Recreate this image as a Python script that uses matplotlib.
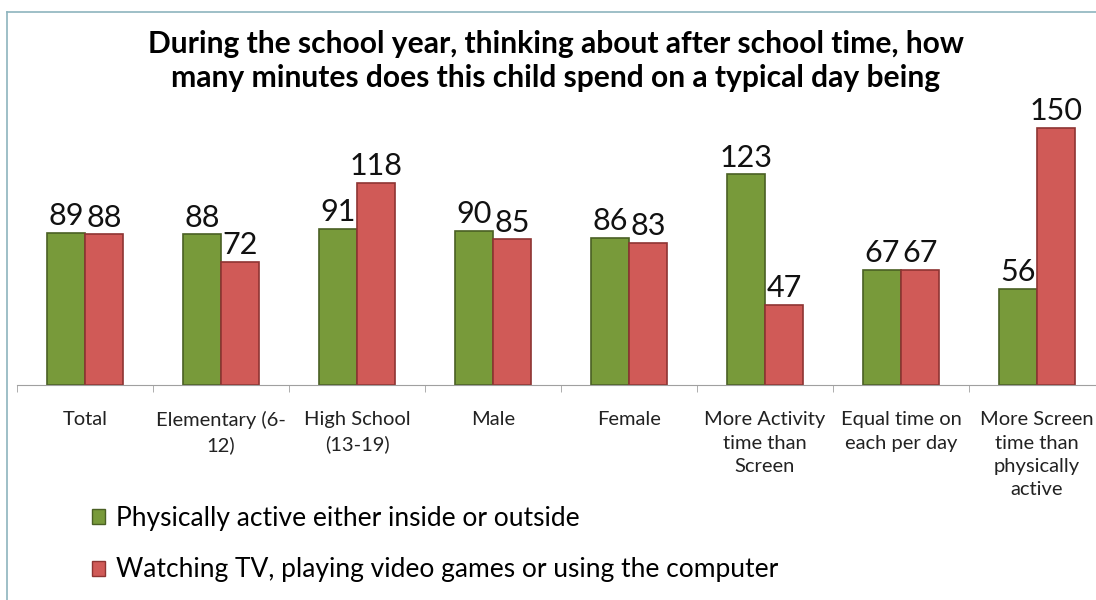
import numpy as np
import matplotlib

matplotlib.use("Agg")
import matplotlib.pyplot as plt
from matplotlib.patches import Patch
from matplotlib.lines import Line2D

# data
categories = [
    "Total",
    "Elementary (6-\n12)",
    "High School\n(13-19)",
    "Male",
    "Female",
    "More Activity\ntime than\nScreen",
    "Equal time on\neach per day",
    "More Screen\ntime than\nphysically\nactive",
]
active = [89, 88, 91, 90, 86, 123, 67, 56]
screen = [88, 72, 118, 85, 83, 47, 67, 150]
series_names = [
    "Physically active either inside or outside",
    "Watching TV, playing video games or using the computer",
]

green = "#789A3A"
green_edge = "#4A6024"
red = "#D05A57"
red_edge = "#8E3432"

plt.rcParams["font.family"] = ["Lato", "DejaVu Sans"]

fig = plt.figure(figsize=(10.96, 6.0), dpi=100)
W, H = 1096, 600
# axes placed in pixel terms: baseline at y=385, categories 136 px wide
ax = fig.add_axes([17 / W, (600 - 385) / H, 1088 / W, 274 / H])

x = np.arange(len(categories))
bw = 0.28
b1 = ax.bar(x - bw / 2, active, bw, color=green, edgecolor=green_edge, linewidth=1.2)
b2 = ax.bar(x + bw / 2, screen, bw, color=red, edgecolor=red_edge, linewidth=1.2)

for bars in (b1, b2):
    for rect in bars:
        h = rect.get_height()
        ax.annotate(
            f"{h:.0f}",
            (rect.get_x() + rect.get_width() / 2, h),
            xytext=(0, 2),
            textcoords="offset points",
            ha="center",
            va="bottom",
            fontsize=22,
            color="#111111",
            annotation_clip=False,
        )

ax.set_xlim(-0.5, len(categories) - 0.5)
ax.set_ylim(0, 160)
ax.set_yticks([])
ax.set_xticks(x)
ax.set_xticklabels(categories, fontsize=14.5, linespacing=1.45, color="#222222")
ax.set_xticks(np.arange(len(categories)) - 0.5, minor=True)
ax.tick_params(axis="x", which="major", length=0, pad=19)
ax.tick_params(axis="x", which="minor", length=5, color="#A0A0A0", direction="out")
for side in ("top", "right", "left"):
    ax.spines[side].set_visible(False)
ax.spines["bottom"].set_color("#A0A0A0")

fig.text(
    556 / W,
    1 - 61 / H,
    "During the school year, thinking about after school time, how\n"
    "many minutes does this child spend on a typical day being",
    ha="center",
    va="center",
    fontsize=21.6,
    fontweight="bold",
    linespacing=1.25,
)

handles = [
    Patch(facecolor=green, edgecolor=green_edge),
    Patch(facecolor=red, edgecolor=red_edge),
]
fig.legend(
    handles,
    series_names,
    loc="upper left",
    bbox_to_anchor=(92 / W, 1 - 506 / H),
    borderaxespad=0,
    borderpad=0,
    frameon=False,
    fontsize=19,
    handlelength=0.5,
    handleheight=0.5,
    handletextpad=0.42,
    labelspacing=1.0,
)

# thin frame lines of the original slide
border = "#8EB4BE"
fig.add_artist(Line2D([7 / W, 1], [1 - 12 / H, 1 - 12 / H], color=border, lw=1.2))
fig.add_artist(Line2D([7 / W, 7 / W], [0, 1 - 12 / H], color=border, lw=1.2))

fig.savefig("out.png", dpi=100)
